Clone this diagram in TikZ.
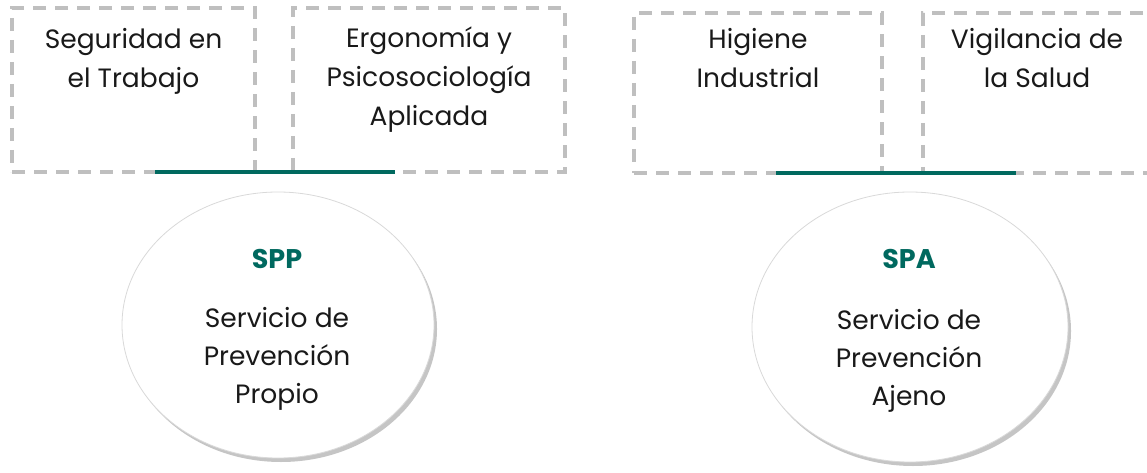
\documentclass[tikz,border=0pt]{standalone}
\usepackage{fontspec}
\setmainfont{Poppins}
\usetikzlibrary{shadows,shapes.geometric}
\definecolor{teal1}{HTML}{00695F}
\definecolor{dashgray}{HTML}{BFBFBF}
\begin{document}
\begin{tikzpicture}[x=1pt,y=-1pt,
  areabox/.style={draw=dashgray, line width=3.4pt, dash pattern=on 13pt off 9pt, rectangle, inner sep=0pt},
  areatext/.style={font=\fontsize{26.5}{39}\selectfont, align=center, anchor=base, inner sep=0pt, text=black!90},
  servicio/.style={ellipse, draw=black!15, line width=0.8pt, fill=white, inner sep=0pt,
     drop shadow={shadow xshift=3pt, shadow yshift=-4pt, fill=black!45, opacity=0.5}},
  svtext/.style={font=\fontsize{26.5}{38}\selectfont, align=center, anchor=base, inner sep=0pt, text=black!90},
  abbr/.style={font=\fontsize{27}{30}\selectfont\bfseries, anchor=base, inner sep=0pt, text=teal1},
  bar/.style={draw=teal1, line width=3.4pt}
]
\useasboundingbox (0,0) rectangle (1147,473);
\clip (0,0) rectangle (1147,473);
% boxes
\node[areabox, minimum width=243pt, minimum height=164pt] (b1) at (133.5,90) {};
\node[areabox, minimum width=272pt, minimum height=164pt] (b2) at (429,90) {};
\node[areabox, minimum width=248pt, minimum height=160pt] (b3) at (758,93) {};
\node[areabox, minimum width=228pt, minimum height=160pt] (b4) at (1037,93) {};
% texts (anchor = baseline of last line)
\node[areatext] (t1) at (133.5,88) {Seguridad en\\el Trabajo};
\node[areatext] (t2) at (429,126) {Ergonomía y\\Psicosociología\\Aplicada};
\node[areatext] (t3) at (758,88) {Higiene\\Industrial};
\node[areatext] (t4) at (1037,88) {Vigilancia de\\la Salud};
% bars
\coordinate (l1) at (155,172);
\coordinate (l2) at (395,172);
\coordinate (r1) at (776,173);
\coordinate (r2) at (1016,173);
\draw[bar] (l1) -- (l2);
\draw[bar] (r1) -- (r2);
% ellipses
\node[servicio, minimum width=312pt, minimum height=266pt] (spp) at (278,325) {};
\node[servicio, minimum width=316pt, minimum height=270pt] (spa) at (910,327) {};
\node[abbr] (spp-a) at (277,268) {SPP};
\node[abbr] (spa-a) at (909,268) {SPA};
\node[svtext] (spp-t) at (277,403) {Servicio de\\Prevención\\Propio};
\node[svtext] (spa-t) at (909,405) {Servicio de\\Prevención\\Ajeno};
\end{tikzpicture}
\end{document}
